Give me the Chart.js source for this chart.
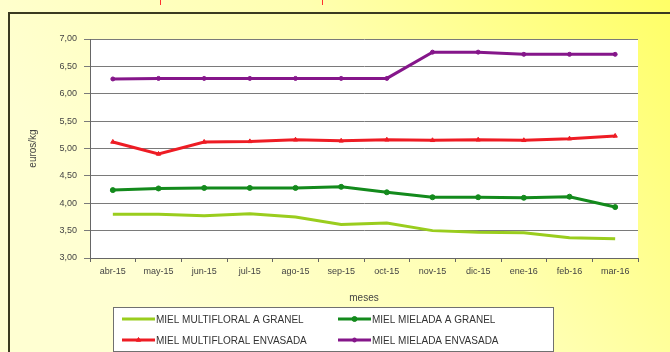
<!DOCTYPE html>
<html>
<head>
<meta charset="utf-8">
<script src="https://cdn.jsdelivr.net/npm/chart.js@4.4.1/dist/chart.umd.min.js"></script>
<style>
  body { margin: 0; background: #fff; }
  #wrap { position: relative; width: 670px; height: 352px; }
  .mark { position: absolute; top: 0; width: 1px; height: 5px; background: #ff3030; }
</style>
</head>
<body>
<div id="wrap">
  <canvas id="priceChart" width="670" height="352"></canvas>
  <div class="mark" style="left:160px"></div>
  <div class="mark" style="left:322px"></div>
</div>
<script>
const months = ['abr-15', 'may-15', 'jun-15', 'jul-15', 'ago-15', 'sep-15', 'oct-15', 'nov-15', 'dic-15', 'ene-16', 'feb-16', 'mar-16'];
const multifloralGranel = [3.80, 3.80, 3.77, 3.81, 3.75, 3.61, 3.64, 3.50, 3.47, 3.46, 3.37, 3.35];
const mieladaGranel = [4.24, 4.27, 4.28, 4.28, 4.28, 4.30, 4.20, 4.11, 4.11, 4.10, 4.12, 3.93];
const multifloralEnvasada = [5.12, 4.90, 5.12, 5.13, 5.16, 5.14, 5.16, 5.15, 5.16, 5.15, 5.18, 5.23];
const mieladaEnvasada = [6.27, 6.28, 6.28, 6.28, 6.28, 6.28, 6.28, 6.76, 6.76, 6.72, 6.72, 6.72];

const ctx = document.getElementById('priceChart').getContext('2d');

// yellow frame, white plot area and outer border
const backdrop = {
    id: 'backdrop',
    beforeDraw(chart) {
        const c = chart.ctx;
        const a = chart.chartArea;
        c.save();
        const g = c.createLinearGradient(670, 0, 200, 352);
        g.addColorStop(0, '#ffff66');
        g.addColorStop(0.5, '#ffffb0');
        g.addColorStop(1, '#ffffd2');
        c.fillStyle = g;
        c.fillRect(0, 0, chart.width, chart.height);
        c.fillStyle = '#ffffff';
        c.fillRect(a.left, a.top, a.right - a.left, a.bottom - a.top);
        c.strokeStyle = '#3a3a20';
        c.lineWidth = 2;
        c.beginPath();
        c.moveTo(9, 352);
        c.lineTo(9, 13);
        c.lineTo(670, 13);
        c.stroke();
        c.restore();
    }
};

// boxed two-column legend
const boxLegend = {
    id: 'boxLegend',
    afterDraw(chart) {
        const c = chart.ctx;
        c.save();
        c.fillStyle = '#ffffff';
        c.fillRect(113, 307, 440, 44);
        c.strokeStyle = '#707070';
        c.lineWidth = 1;
        c.strokeRect(113.5, 307.5, 440, 44);
        const cols = [122, 338];
        const rows = [319, 340];
        c.font = '10px Arial, "Liberation Sans", sans-serif';
        c.textBaseline = 'middle';
        chart.data.datasets.forEach((ds, i) => {
            const x = cols[i % 2];
            const y = rows[Math.floor(i / 2)];
            c.strokeStyle = ds.borderColor;
            c.lineWidth = 3;
            c.beginPath();
            c.moveTo(x, y);
            c.lineTo(x + 33, y);
            c.stroke();
            if (ds.pointRadius > 0) {
                c.fillStyle = ds.borderColor;
                c.lineWidth = 1;
                Chart.helpers.drawPoint(c, {
                    pointStyle: ds.pointStyle,
                    radius: ds.pointRadius,
                    rotation: 0,
                    borderWidth: 1
                }, x + 16.5, y);
            }
            c.fillStyle = '#333333';
            c.fillText(ds.label, x + 34, y + 1);
        });
        c.restore();
    }
};

const tickFont = { family: 'Arial, "Liberation Sans", sans-serif', size: 9 };

new Chart(ctx, {
    type: 'line',
    data: {
        labels: months,
        datasets: [{
            label: 'MIEL MULTIFLORAL A GRANEL',
            data: multifloralGranel,
            borderColor: '#9acd1e',
            backgroundColor: '#9acd1e',
            borderWidth: 3,
            pointRadius: 0,
            pointStyle: 'line'
        }, {
            label: 'MIEL MIELADA A GRANEL',
            data: mieladaGranel,
            borderColor: '#138a1c',
            backgroundColor: '#138a1c',
            borderWidth: 3,
            pointRadius: 2.5,
            pointBorderWidth: 1,
            pointStyle: 'circle'
        }, {
            label: 'MIEL MULTIFLORAL ENVASADA',
            data: multifloralEnvasada,
            borderColor: '#ee1c24',
            backgroundColor: '#ee1c24',
            borderWidth: 3,
            pointRadius: 2.5,
            pointBorderWidth: 1,
            pointStyle: 'triangle'
        }, {
            label: 'MIEL MIELADA ENVASADA',
            data: mieladaEnvasada,
            borderColor: '#85168a',
            backgroundColor: '#85168a',
            borderWidth: 3,
            pointRadius: 2,
            pointBorderWidth: 1,
            pointStyle: 'circle'
        }]
    },
    options: {
        responsive: false,
        animation: false,
        layout: { padding: { left: 20, right: 32, top: 39, bottom: 48 } },
        plugins: {
            legend: { display: false },
            tooltip: { enabled: false }
        },
        elements: { line: { tension: 0 } },
        scales: {
            x: {
                offset: true,
                grid: {
                    offset: true,
                    drawOnChartArea: false,
                    drawTicks: true,
                    tickLength: 4,
                    color: '#666666'
                },
                border: { color: '#666666', width: 1 },
                ticks: { color: '#444444', font: tickFont, padding: 4, maxRotation: 0, autoSkip: false },
                title: {
                    display: true,
                    text: 'meses',
                    color: '#444444',
                    font: { family: 'Arial, "Liberation Sans", sans-serif', size: 10 },
                    padding: { top: 8, bottom: 0 }
                },
                afterFit(scale) { scale.height = 46; }
            },
            y: {
                min: 3,
                max: 7,
                ticks: {
                    stepSize: 0.5,
                    color: '#444444',
                    font: tickFont,
                    padding: 7,
                    callback: v => v.toFixed(2).replace('.', ',')
                },
                grid: { color: '#7a7a7a', lineWidth: 1, tickLength: 6 },
                border: { color: '#666666', width: 1 },
                title: {
                    display: true,
                    text: 'euros/kg',
                    color: '#444444',
                    font: { family: 'Arial, "Liberation Sans", sans-serif', size: 10 },
                    padding: { top: 7, bottom: 0 }
                },
                afterFit(scale) { scale.width = 70; }
            }
        }
    },
    plugins: [backdrop, boxLegend]
});
</script>
</body>
</html>
